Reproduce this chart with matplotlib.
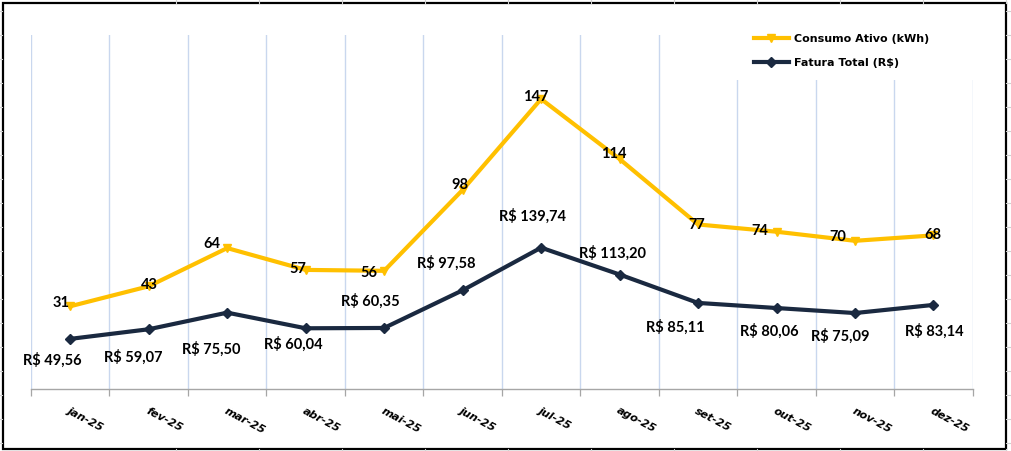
import numpy as np
import matplotlib
matplotlib.use("Agg")
import matplotlib.pyplot as plt
from matplotlib.lines import Line2D
from matplotlib.patches import Rectangle

# ---------------- data ----------------
months = ["jan-25", "fev-25", "mar-25", "abr-25", "mai-25", "jun-25",
          "jul-25", "ago-25", "set-25", "out-25", "nov-25", "dez-25"]
# consumption as drawn by the line (kWh)
consumo_kwh = [33, 44, 65, 53, 52.5, 97, 147, 114, 78, 74, 69, 72]
# consumption labels as printed on the chart
consumo_labels = ["31", "43", "64", "57", "56", "98", "147", "114", "77", "74", "70", "68"]
# total bill (R$)
fatura_rs = [49.56, 59.07, 75.50, 60.04, 60.35, 97.58,
             139.74, 113.20, 85.11, 80.06, 75.09, 83.14]

# label offsets (pixels, x right / y up) -- layout only
cons_off = [(-9, 4), (1, 2), (-15, 5), (-8, 2), (-15, -1), (-3, 6),
            (-5, 3), (-6, 6), (-1, 0), (-17, 2), (-17, 5), (-1, 1)]
fat_off = [(-18, -21), (-15, -28), (-16, -36), (-12, -16), (-14, 27), (-16, 28),
           (-9, 32), (-7, 22), (-23, -24), (-7, -23), (-15, -23), (1, -26)]

YELLOW = "#FFC000"
NAVY = "#1A2940"
GRID = "#C9D7EE"

W, H = 1011, 451
fig = plt.figure(figsize=(W / 100, H / 100), dpi=100)
fig.patch.set_facecolor("white")

# spreadsheet grid peeking around the chart
for xg in np.arange(175.7, W, 83):
    fig.add_artist(Line2D([xg / W, xg / W], [1 - 3 / H, 1], color="#D0D0D0", lw=0.8))
    fig.add_artist(Line2D([xg / W, xg / W], [0, 2 / H], color="#D0D0D0", lw=0.8))
for yg in np.arange(11, H, 24):
    fig.add_artist(Line2D([0, 2 / W], [1 - yg / H, 1 - yg / H], color="#D0D0D0", lw=0.8))
    fig.add_artist(Line2D([1006 / W, 1], [1 - yg / H, 1 - yg / H], color="#D0D0D0", lw=0.8))

# chart border
fig.add_artist(Rectangle((2.5 / W, 2.5 / H), 1003 / W, 446 / H, transform=fig.transFigure,
                         fill=False, edgecolor="black", lw=1.6))

L, R, T, B = 31, 972.7, 35, 389
ax = fig.add_axes([L / W, 1 - B / H, (R - L) / W, (B - T) / H])
ax2 = ax.twinx()

x = np.arange(len(months))
ax.set_xlim(-0.5, len(months) - 0.5)
ax.set_ylim(-12.5, 182.2)
ax2.set_ylim(0, 350)

# category boundaries: ticks + vertical gridlines
ax.set_xticks(np.arange(-0.5, len(months)), labels=[""] * (len(months) + 1))
ax.set_xticks(x, labels=months, minor=True)
ax.tick_params(axis="x", which="major", length=5, width=0.9, color="#A6A6A6", direction="out")
ax.tick_params(axis="x", which="minor", length=0, pad=12)
ax.grid(axis="x", which="major", color=GRID, lw=1.0)
ax.set_axisbelow(True)
for lab in ax.get_xticklabels(minor=True):
    lab.set_rotation(-28)
    lab.set_ha("left")
    lab.set_va("top")
    lab.set_rotation_mode("anchor")
    lab.set_fontfamily("DejaVu Sans")
    lab.set_fontweight("bold")
    lab.set_fontstyle("oblique")
    lab.set_fontsize(8)

for a in (ax, ax2):
    a.set_yticks([])
    for s in ("top", "left", "right"):
        a.spines[s].set_visible(False)
    a.patch.set_visible(False)
ax.spines["bottom"].set_color("#A6A6A6")
ax.spines["bottom"].set_linewidth(1.0)
ax2.spines["bottom"].set_visible(False)

# white legend area masking the gridlines
ax.add_patch(Rectangle((735 / W, 1 - 80 / H), 243 / W, 62 / H, transform=fig.transFigure,
                       facecolor="white", edgecolor="none", zorder=1, clip_on=False))

l1, = ax.plot(x, consumo_kwh, color=YELLOW, lw=3.0, marker="v", ms=6,
              mfc=YELLOW, mec=YELLOW, label="Consumo Ativo (kWh)", zorder=3)
l2, = ax2.plot(x, fatura_rs, color=NAVY, lw=3.0, marker="D", ms=5,
               mfc=NAVY, mec=NAVY, label="Fatura Total (R$)", zorder=3)

lab_font = dict(fontfamily="Lato", fontweight="bold", fontsize=10.5, color="black")
for i, (v, t) in enumerate(zip(consumo_kwh, consumo_labels)):
    dx, dy = cons_off[i]
    ax.annotate(t, (x[i], v), xytext=(dx, dy - 5), textcoords="offset pixels",
                ha="center", va="baseline", zorder=5, **lab_font)
for i, v in enumerate(fatura_rs):
    dx, dy = fat_off[i]
    txt = "R$ " + f"{v:.2f}".replace(".", ",")
    ax2.annotate(txt, (x[i], v), xytext=(dx, dy - 5), textcoords="offset pixels",
                 ha="center", va="baseline", zorder=5, **lab_font)

leg = ax2.legend(handles=[l1, l2], loc="upper left",
                 bbox_to_anchor=(742 / W, 1 - 22.5 / H, 236 / W, 0),
                 bbox_transform=fig.transFigure, mode="expand", borderaxespad=0,
                 prop=dict(family="DejaVu Sans", weight="bold", size=8),
                 handlelength=3.2, handletextpad=0.45, labelspacing=1.27,
                 borderpad=1.04, frameon=False)

fig.savefig("out.png", dpi=100, facecolor="white")
